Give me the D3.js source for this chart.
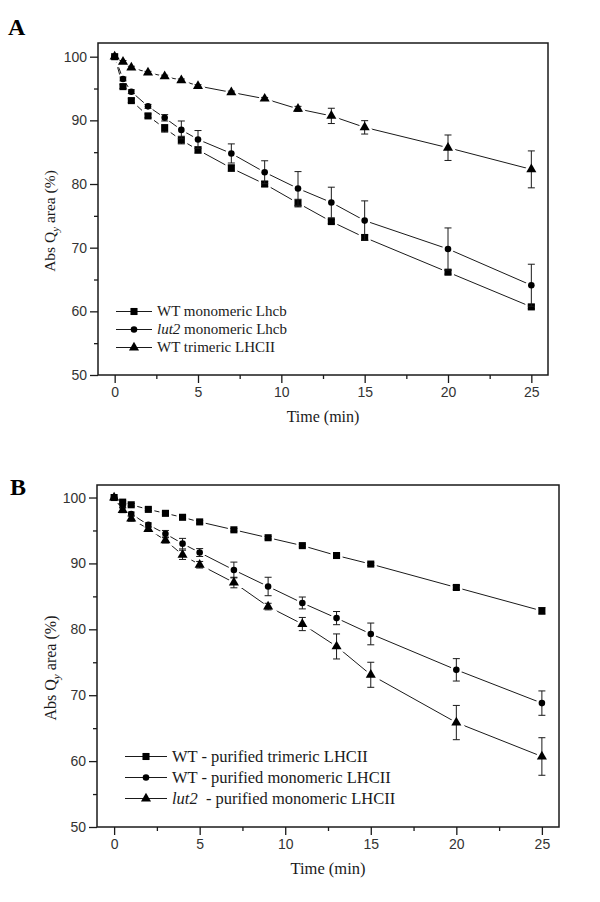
<!DOCTYPE html>
<html>
<head>
<meta charset="utf-8">
<script src="https://cdn.jsdelivr.net/npm/d3@7"></script>
<style>
  body { margin: 0; background: #fff; }
  svg { display: block; }
</style>
</head>
<body>
<svg id="chart" width="600" height="902"></svg>
<script>
// sampling times (min), same for both panels
const time = [0, 0.5, 1, 2, 3, 4, 5, 7, 9, 11, 13, 15, 20, 25];

// panel A
const wtMonoA = [100, 95.3, 93.1, 90.7, 88.75, 86.9, 85.35, 82.5, 80.0, 77.0, 74.1, 71.6, 66.15, 60.7];
const wtMonoAErr = [0, 0.3, 0.3, 0.3, 0.6, 0.6, 0.5, 0.5, 0.4, 0.6, 0.3, 0.4, 0.3, 0.3];
const lutMonoA = [100, 96.5, 94.5, 92.2, 90.4, 88.5, 87.0, 84.8, 81.85, 79.3, 77.1, 74.25, 69.8, 64.1];
const lutMonoAErr = [0, 0.3, 0.3, 0.3, 0.5, 1.4, 1.4, 1.5, 1.8, 2.65, 2.4, 3.1, 3.3, 3.3];
const wtTriA = [100, 99.2, 98.3, 97.5, 96.9, 96.3, 95.4, 94.4, 93.4, 91.8, 90.7, 88.9, 85.7, 82.3];
const wtTriAErr = [0, 0.2, 0.2, 0.2, 0.2, 0.2, 0.2, 0.2, 0.2, 0.4, 1.2, 1.05, 2.0, 2.9];

// panel B
const wtTriB = [100, 99.3, 98.9, 98.2, 97.6, 97.0, 96.3, 95.1, 93.9, 92.7, 91.2, 89.9, 86.35, 82.8];
const wtTriBErr = [0, 0.2, 0.2, 0.2, 0.2, 0.2, 0.2, 0.2, 0.2, 0.2, 0.2, 0.2, 0.3, 0.5];
const wtMonoB = [100, 98.7, 97.5, 95.85, 94.5, 93.0, 91.65, 89.0, 86.5, 84.0, 81.7, 79.3, 73.85, 68.8];
const wtMonoBErr = [0, 0.3, 0.3, 0.3, 0.5, 0.8, 0.6, 1.2, 1.4, 0.9, 1.0, 1.65, 1.7, 1.85];
const lutMonoB = [100, 98.1, 96.8, 95.2, 93.5, 91.3, 89.8, 87.1, 83.45, 80.8, 77.4, 73.1, 65.85, 60.7];
const lutMonoBErr = [0, 0.4, 0.4, 0.3, 0.4, 0.7, 0.5, 0.8, 0.5, 1.0, 1.9, 1.9, 2.6, 2.85];

const xMajor = [0, 5, 10, 15, 20, 25];
const xMinor = [2.5, 7.5, 12.5, 17.5, 22.5];
const yMajor = [50, 60, 70, 80, 90, 100];
const yMinor = [55, 65, 75, 85, 95];

const ink = "#1a1a1a";
const serif = "'Liberation Serif', 'Times New Roman', serif";
const sans = "'Liberation Sans', Arial, sans-serif";
const svg = d3.select("#chart");

const symbolFor = {
  square: d3.symbol().type(d3.symbolSquare).size(50),
  circle: d3.symbol().type(d3.symbolCircle).size(34),
  triangle: d3.symbol().type(d3.symbolTriangle).size(44)
};

function drawPanel(p) {
  const g = svg.append("g");
  const x = d3.scaleLinear().domain([-1, 26]).range([p.left, p.right]);
  const y = d3.scaleLinear().domain([50, p.yTop]).range([p.bottom, p.top]);

  // axes (ticks outward)
  g.append("g")
    .attr("transform", `translate(0,${p.bottom})`)
    .call(d3.axisBottom(x).tickValues(xMinor).tickSize(4).tickFormat(""))
    .call(s => s.select(".domain").remove());
  g.append("g")
    .attr("transform", `translate(${p.left},0)`)
    .call(d3.axisLeft(y).tickValues(yMinor).tickSize(4).tickFormat(""))
    .call(s => s.select(".domain").remove());
  const xa = g.append("g")
    .attr("transform", `translate(0,${p.bottom})`)
    .call(d3.axisBottom(x).tickValues(xMajor).tickSize(8).tickPadding(4));
  const ya = g.append("g")
    .attr("transform", `translate(${p.left},0)`)
    .call(d3.axisLeft(y).tickValues(yMajor).tickSize(8).tickPadding(3));
  [xa, ya].forEach(a => {
    a.select(".domain").remove();
    a.selectAll("text").attr("font-family", sans)
      .attr("font-size", p.tickFont).attr("fill", "#333");
  });
  g.selectAll(".tick line").attr("stroke", ink).attr("stroke-width", 1.3);

  g.append("rect")
    .attr("x", p.left).attr("y", p.top)
    .attr("width", p.right - p.left).attr("height", p.bottom - p.top)
    .attr("fill", "none").attr("stroke", ink).attr("stroke-width", 1.5);

  const line = d3.line().x(d => x(d.t)).y(d => y(d.v));

  p.series.forEach(s => {
    const pts = time.map((t, i) => ({ t, v: s.values[i], e: s.err[i] }));
    const sg = g.append("g");
    sg.append("path").datum(pts).attr("d", line)
      .attr("fill", "none").attr("stroke", ink).attr("stroke-width", 1);
    // white halo so the line stops short of the symbols
    sg.selectAll(".halo").data(pts).join("path")
      .attr("transform", d => `translate(${x(d.t)},${y(d.v)})`)
      .attr("d", symbolFor[s.shape]())
      .attr("fill", "#fff").attr("stroke", "#fff").attr("stroke-width", 5);
  });

  p.series.forEach(s => {
    const pts = time.map((t, i) => ({ t, v: s.values[i], e: s.err[i] }));
    const sg = g.append("g");
    const eb = sg.selectAll(".eb").data(pts.filter(d => d.e > 0)).join("g")
      .attr("stroke", ink).attr("stroke-width", 1);
    eb.append("line")
      .attr("x1", d => x(d.t)).attr("x2", d => x(d.t))
      .attr("y1", d => y(d.v - d.e)).attr("y2", d => y(d.v + d.e));
    eb.append("line")
      .attr("x1", d => x(d.t) - 3.5).attr("x2", d => x(d.t) + 3.5)
      .attr("y1", d => y(d.v + d.e)).attr("y2", d => y(d.v + d.e));
    eb.append("line")
      .attr("x1", d => x(d.t) - 3.5).attr("x2", d => x(d.t) + 3.5)
      .attr("y1", d => y(d.v - d.e)).attr("y2", d => y(d.v - d.e));
    sg.selectAll(".mk").data(pts).join("path")
      .attr("transform", d => `translate(${x(d.t)},${y(d.v)})`)
      .attr("d", symbolFor[s.shape]())
      .attr("fill", "#000");
  });

  // legend
  p.series.forEach((s, i) => {
    const ly = p.legend.y + i * p.legend.dy;
    const lg = g.append("g");
    lg.append("line")
      .attr("x1", p.legend.x).attr("x2", p.legend.x + p.legend.w)
      .attr("y1", ly).attr("y2", ly).attr("stroke", ink).attr("stroke-width", 1);
    lg.append("path")
      .attr("transform", `translate(${p.legend.x + p.legend.w / 2},${ly})`)
      .attr("d", symbolFor[s.shape]()).attr("fill", "#000");
    const txt = lg.append("text")
      .attr("x", p.legend.x + p.legend.w + 5).attr("y", ly + p.legend.font * 0.33)
      .attr("font-family", serif)
      .attr("font-size", p.legend.font).attr("fill", ink)
      .attr("xml:space", "preserve");
    s.label.forEach(part => {
      txt.append("tspan").attr("font-style", part.italic ? "italic" : "normal").text(part.text);
    });
  });

  // axis titles
  g.append("text")
    .attr("x", (p.left + p.right) / 2).attr("y", p.bottom + p.xTitleOffset)
    .attr("text-anchor", "middle")
    .attr("font-family", serif)
    .attr("font-size", p.titleFont).attr("fill", ink)
    .text("Time (min)");
  const yt = g.append("text")
    .attr("transform", `translate(${p.yTitleX},${(p.top + p.bottom) / 2 + 12}) rotate(-90)`)
    .attr("text-anchor", "middle")
    .attr("font-family", serif)
    .attr("font-size", p.yTitleFont).attr("fill", ink);
  yt.append("tspan").text("Abs Q");
  yt.append("tspan").attr("font-style", "italic").attr("font-size", p.yTitleFont * 0.7)
    .attr("dy", 4).text("y");
  yt.append("tspan").attr("dy", -4).text(" area (%)");

  // panel letter
  g.append("text")
    .attr("x", p.letterX).attr("y", p.letterY)
    .attr("font-family", serif)
    .attr("font-weight", "bold").attr("font-size", 24).attr("fill", "#000")
    .text(p.letter);
}

drawPanel({
  letter: "A", letterX: 8, letterY: 35,
  left: 98, right: 548, top: 43, bottom: 375, yTop: 102.15,
  tickFont: 14, titleFont: 16, yTitleFont: 15.5, xTitleOffset: 47, yTitleX: 55,
  legend: { x: 116, w: 36, y: 311.5, dy: 18, font: 15 },
  series: [
    { shape: "square", values: wtMonoA, err: wtMonoAErr, label: [{ text: "WT monomeric Lhcb" }] },
    { shape: "circle", values: lutMonoA, err: lutMonoAErr, label: [{ text: "lut2", italic: true }, { text: " monomeric Lhcb" }] },
    { shape: "triangle", values: wtTriA, err: wtTriAErr, label: [{ text: "WT trimeric LHCII" }] }
  ]
});

drawPanel({
  letter: "B", letterX: 10, letterY: 495,
  left: 97, right: 559, top: 485, bottom: 827, yTop: 101.9,
  tickFont: 14, titleFont: 16.5, yTitleFont: 16, xTitleOffset: 47, yTitleX: 56,
  legend: { x: 125, w: 42, y: 756.5, dy: 21, font: 16.5 },
  series: [
    { shape: "square", values: wtTriB, err: wtTriBErr, label: [{ text: "WT - purified trimeric LHCII" }] },
    { shape: "circle", values: wtMonoB, err: wtMonoBErr, label: [{ text: "WT - purified monomeric LHCII" }] },
    { shape: "triangle", values: lutMonoB, err: lutMonoBErr, label: [{ text: "lut2", italic: true }, { text: "  - purified monomeric LHCII" }] }
  ]
});
</script>
</body>
</html>
